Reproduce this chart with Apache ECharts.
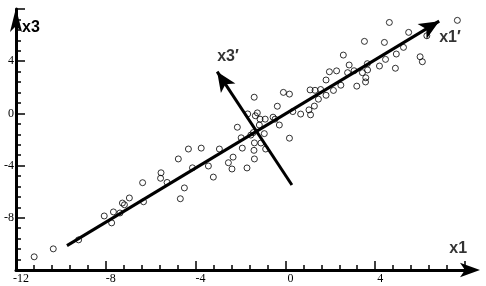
<!DOCTYPE html>
<html><head><meta charset="utf-8">
<script src="https://cdn.jsdelivr.net/npm/echarts@6/dist/echarts.min.js"></script>
<style>html,body{margin:0;padding:0;background:#fff}#c{width:486px;height:286px}</style>
</head><body><div id="c"></div>
<script>
// scatter observations (x1, x3)
const obsX1 = [-11.19,-10.34,-9.21,-8.07,-7.74,-7.66,-7.37,-7.26,-7.17,-6.95,-6.36,-6.32,-5.56,-5.54,-5.27,-4.77,-4.50,-4.68,-4.32,-4.14,
  -3.75,-3.43,-3.21,-2.94,-2.54,-2.33,-2.38,-2.14,-1.97,-1.92,-1.71,-1.68,-1.38,-1.40,-1.38,-1.09,-0.88,-1.39,-0.09,0.18,
  -0.36,1.10,1.32,1.57,1.81,1.81,1.47,1.29,1.05,1.12,0.68,0.33,-1.25,-1.34,-1.13,-0.90,-0.55,-0.46,-0.27,-1.16,
  -1.43,-0.94,-1.54,0.18,4.63,7.66,5.49,6.30,3.52,4.41,2.58,5.26,4.94,6.00,6.10,4.46,4.19,4.90,2.84,2.77,
  3.65,3.66,3.43,3.06,1.96,2.28,3.58,3.57,3.18,2.47,2.14];
const obsX3 = [-10.99,-10.38,-9.69,-7.86,-8.39,-7.55,-7.63,-6.87,-7.00,-6.48,-5.31,-6.77,-4.97,-4.55,-5.29,-3.49,-5.71,-6.54,-2.73,-4.17,
  -2.66,-4.03,-4.88,-2.73,-3.78,-3.35,-4.26,-1.06,-1.87,-2.66,-4.18,-0.04,-2.26,-2.83,-3.49,-2.27,-2.73,1.24,1.61,1.48,
  0.55,1.80,1.77,1.83,2.56,1.39,1.09,0.56,0.27,-0.11,-0.05,0.14,0.04,-0.18,-0.44,-0.44,-0.29,-0.44,-0.89,-0.89,
  -1.47,-1.55,-1.66,-1.90,6.97,7.13,6.21,5.95,5.52,5.44,4.47,5.06,4.55,4.34,3.96,4.14,3.63,3.46,3.71,3.12,
  3.81,3.33,3.12,3.27,3.19,3.26,2.73,2.41,2.09,2.16,1.76];

// principal axes (start, arrow tip)
const primeAxisNames = ['x1′', 'x3′'];
const primeStartX = [-9.73, 0.29];
const primeStartY = [-10.13, -5.49];
const primeEndX = [6.85, -3.04];
const primeEndY = [7.07, 3.20];
const primeLabelX = [6.85, -3.04];
const primeLabelY = [5.81, 4.36];

const axisMin = -12, axisMax = 8, axisStep = 4;
const axisNames = ['x1', 'x3'];
const x1NamePos = [7.70, -10.36];

const chart = echarts.init(document.getElementById('c'), null, {renderer: 'canvas'});
const serif = 'Liberation Serif';
const sans = 'Liberation Sans';
const fmt = v => (v < 0 ? '-' : '') + Math.abs(v);

function axisCommon(isX) {
  const a = {
    type: 'value', min: axisMin, max: axisMax, interval: axisStep,
    axisLine: {show: true, onZero: false,
      lineStyle: {color: '#000', width: 3},
      symbol: ['none', 'arrow'],
      symbolSize: isX ? [11, 20] : [9, 24],
      symbolOffset: isX ? [0, 15] : [0, 1]},
    axisTick: {show: true, inside: true, length: 9, lineStyle: {color: '#000', width: 1.5}},
    minorTick: {show: true, splitNumber: 5, length: 5, lineStyle: {color: '#000', width: 1.5}},
    splitLine: {show: false},
    minorSplitLine: {show: false},
    axisLabel: isX
      ? {show: true, showMaxLabel: false, showMinLabel: true, margin: 3, fontFamily: serif, fontSize: 12, color: '#000', padding: [0,0,0,10], formatter: fmt}
      : {show: true, showMaxLabel: false, showMinLabel: false, margin: 2, fontFamily: serif, fontSize: 12, color: '#000', formatter: fmt}
  };
  if (!isX) {
    a.name = axisNames[1];
    a.nameLocation = 'end';
    a.nameGap = -19;
    a.nameMoveOverlap = false;
    a.nameTextStyle = {fontFamily: sans, fontWeight: 'bold', fontSize: 16, color: '#000', align: 'left', verticalAlign: 'middle', padding: [0,0,0,6]};
  }
  return a;
}

const arrowLines = primeStartX.map((_, i) => [
  {coord: [primeStartX[i], primeStartY[i]]},
  {coord: [primeEndX[i], primeEndY[i]]}
]);

const textItems = primeLabelX.map((x, i) => [x, primeLabelY[i], primeAxisNames[i], 'left'])
  .concat([[x1NamePos[0], x1NamePos[1], axisNames[0], 'center']]);

chart.setOption({
  animation: false,
  backgroundColor: '#fff',
  grid: {left: 16, right: 21, top: 9, bottom: 16, containLabel: false},
  xAxis: axisCommon(true),
  yAxis: axisCommon(false),
  series: [
    {
      type: 'scatter',
      data: obsX1.map((x, i) => [x, obsX3[i]]),
      symbol: 'circle', symbolSize: 6,
      itemStyle: {color: 'rgba(255,255,255,0)', borderColor: '#000', borderWidth: 1},
      silent: true,
      z: 2,
      markLine: {
        silent: true,
        symbol: ['none', 'arrow'],
        symbolSize: [13, 20],
        label: {show: false},
        lineStyle: {color: '#000', width: 3, type: 'solid'},
        emphasis: {disabled: true},
        data: arrowLines,
        z: 5
      }
    },
    {
      type: 'scatter',
      data: textItems.map(t => ({value: [t[0], t[1]], name: t[2],
        label: {align: t[3]}})),
      symbolSize: 0,
      silent: true,
      clip: false,
      label: {show: true, position: [0, 0], verticalAlign: 'middle',
        formatter: p => p.name, fontFamily: sans, fontWeight: 'bold', fontSize: 16, color: '#000'}
    }
  ]
});
</script>
</body></html>
